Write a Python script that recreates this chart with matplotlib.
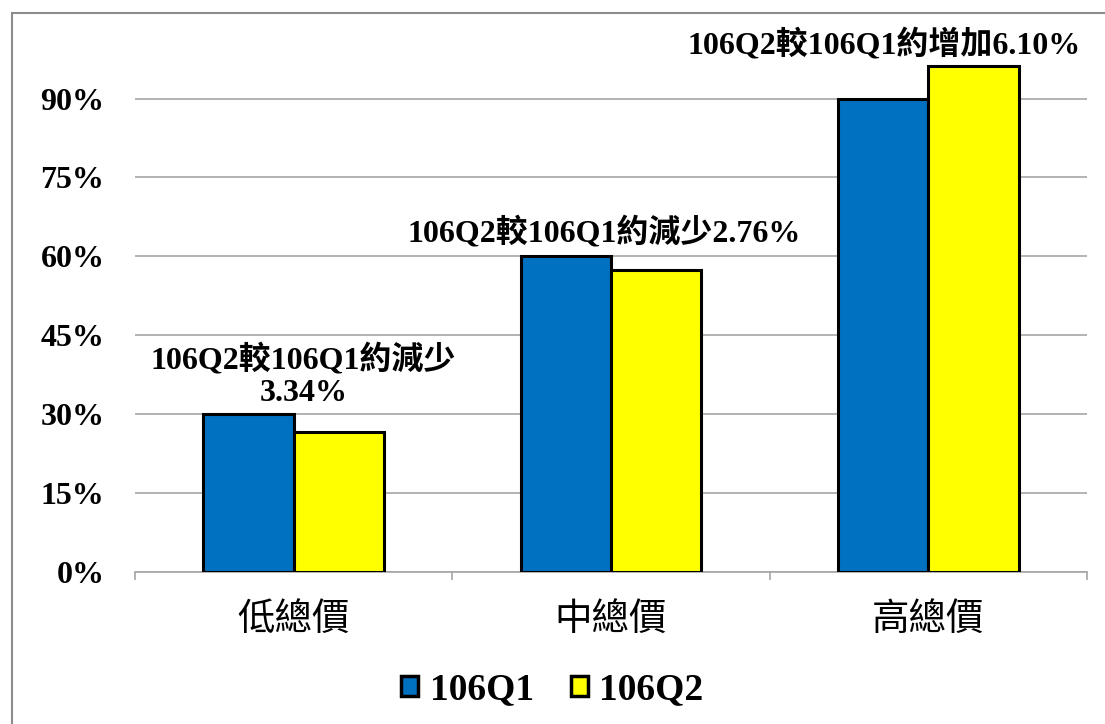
import numpy as np
import matplotlib
matplotlib.use('Agg')
import matplotlib.pyplot as plt
from matplotlib.patches import Rectangle

plt.rcParams['font.family'] = ['Liberation Serif', 'Noto Sans CJK TC']
plt.rcParams['font.weight'] = 'bold'

# data
categories = ['低總價', '中總價', '高總價']
series_names = ['106Q1', '106Q2']
q1 = [30.0, 60.1, 90.0]
q2 = [26.66, 57.34, 96.1]
notes = ['106Q2較106Q1約減少\n3.34%', '106Q2較106Q1約減少2.76%', '106Q2較106Q1約增加6.10%']
note_pos = [(0.03, 37.2), (0.978, 64.3), (1.86, 100.1)]
yticks = [0, 15, 30, 45, 60, 75, 90]

fig = plt.figure(figsize=(11.05, 7.24), dpi=100)
ax = fig.add_axes([0.1222, 0.2099, 0.8615, 0.7266])

# outer frame
fig.patches.append(Rectangle((12 / 1105, -0.05), 1.1, 1 - 13 / 724 + 0.05,
                             transform=fig.transFigure, fill=False,
                             edgecolor='#8c8c8c', linewidth=1.5))

x = np.arange(len(categories))
w = 0.285
ax.bar(x - w / 2, q1, w, color='#0070c0', edgecolor='black', linewidth=2.2,
       label=series_names[0], zorder=3)
ax.bar(x + w / 2, q2, w, color='#ffff00', edgecolor='black', linewidth=2.2,
       label=series_names[1], zorder=3)

ax.set_xlim(-0.5, 2.5)
ax.set_ylim(0, 100)
ax.set_yticks(yticks)
ax.set_yticklabels([f'{v}%' for v in yticks], fontsize=23, fontweight='bold')
ax.yaxis.grid(True, color='#a6a6a6', linewidth=1.2, zorder=0)
ax.tick_params(axis='y', length=0, pad=22)

ax.set_xticks(x)
ax.set_xticklabels(categories, fontsize=27, fontweight='normal')
ax.set_xticks([-0.5, 0.5, 1.5, 2.5], minor=True)
ax.tick_params(axis='x', which='major', length=0, pad=22)
ax.tick_params(axis='x', which='minor', length=6, color='#a6a6a6', width=1.2)

for s in ['top', 'right', 'left']:
    ax.spines[s].set_visible(False)
ax.spines['bottom'].set_color('#a6a6a6')
ax.spines['bottom'].set_linewidth(1.2)

for txt, (tx, ty) in zip(notes, note_pos):
    ax.text(tx, ty, txt, ha='center', va='center', fontsize=23,
            fontweight='bold', linespacing=1.15)

leg = fig.legend(loc='center', bbox_to_anchor=(0.5, 1 - 690 / 724), ncol=2,
                 frameon=False, fontsize=27, handlelength=0.45, handleheight=0.45,
                 handletextpad=0.3, columnspacing=1.0)
for h in leg.legend_handles:
    h.set_linewidth(2.5)

fig.savefig('out.png', dpi=100)
